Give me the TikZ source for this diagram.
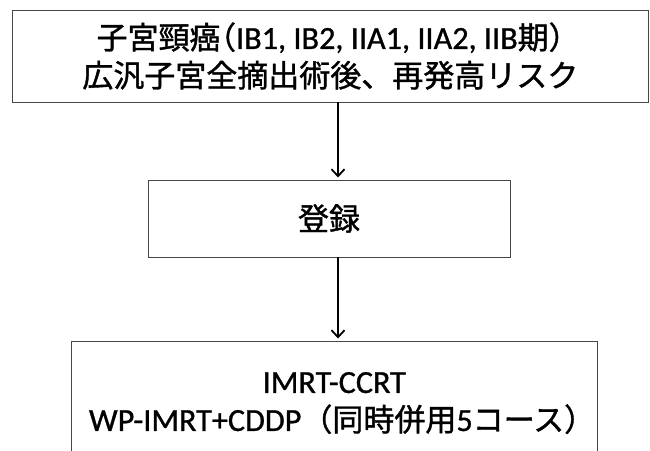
\documentclass[tikz,border=0pt]{standalone}
\usepackage{fontspec}
\setmainfont{Carlito}[Scale=1.04, BoldFont=Carlito, BoldFeatures={FakeBold=0.9}]
\newfontfamily\cjk{Noto Sans CJK JP}[BoldFont={Noto Sans CJK JP}, BoldFeatures={FakeBold=1.2}]
\usetikzlibrary{arrows.meta}
\tikzset{
  flowbox/.style={draw=black!72, line width=1pt, rectangle, inner sep=0pt, outer sep=0pt, align=center, font=\fontsize{31}{38}\selectfont\bfseries},
  flowarrow/.style={draw=black, line width=1.4pt, -{Straight Barb[length=7pt,width=13pt,line width=1.8pt]}, shorten >=2.5pt}
}
\begin{document}
\begin{tikzpicture}[x=1pt,y=-1pt]
\useasboundingbox (0,0) rectangle (650,450);
\node[flowbox, minimum width=635.3pt, minimum height=92pt] (top) at (330.35,56)
  {{\cjk 子宮頸癌\kern-.5em（}IB1, IB2, IIA1, IIA2, IIB{\cjk 期）\kern-.5em}\\{\cjk 広汎子宮全摘出術後、再発高リスク}};
\node[flowbox, minimum width=362pt, minimum height=77pt] (reg) at (329,218.5) {{\cjk 登録}};
\node[flowbox, minimum width=525.3pt, minimum height=124pt] (arm) at (334.35,403)
  {IMRT-CCRT\\WP-IMRT+CDDP{\cjk （同時併用}5{\cjk コース）\kern-.5em}};
\coordinate (ax) at (338,0);
\draw[flowarrow] (top.south -| ax) -- (reg.north -| ax);
\draw[flowarrow] (reg.south -| ax) -- (arm.north -| ax);
\end{tikzpicture}
\end{document}
